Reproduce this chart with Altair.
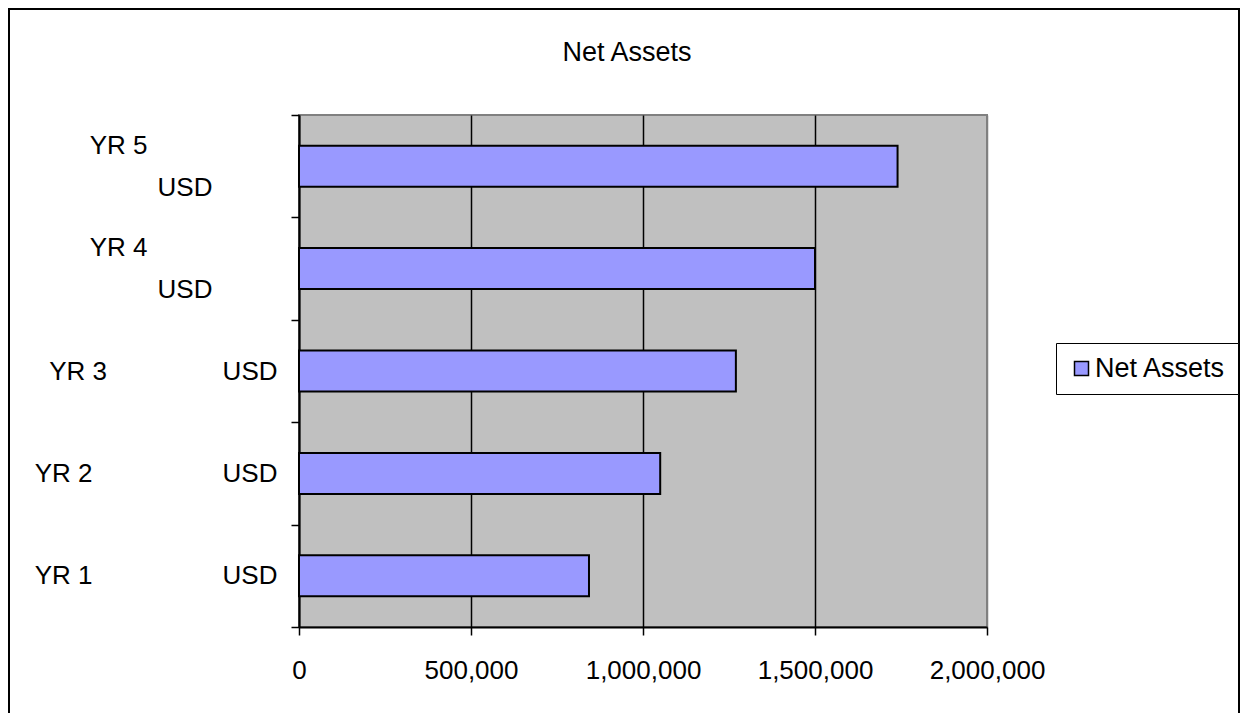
import altair as alt
import pandas as pd

categories = ["YR 1", "YR 2", "YR 3", "YR 4", "YR 5"]
values = [843000, 1050000, 1270000, 1500000, 1740000]
currency = "USD"
series_name = "Net Assets"
title_text = "Net Assets"
x_ticks = [0, 500000, 1000000, 1500000, 2000000]

FONT = "Liberation Sans"
FS = 26
NB = "\u00a0"
ZW = "\u200b"

df = pd.DataFrame({"cat": categories, "value": values, "series": [series_name] * len(categories)})

# label layout (Excel-like wrapping): two-line for top two, single line for the rest
pad = {"YR 1": (18, None), "YR 2": (18, None), "YR 3": (16, None), "YR 4": (18, 9), "YR 5": (18, 9)}
parts = []
two_line = []
for c in categories:
    a, b = pad[c]
    if b is None:
        parts.append(f"'{c}': ['{c}{NB * a}{currency}']")
    else:
        two_line.append(c)
        parts.append(f"'{c}': ['{c}{NB * a}{ZW}', '{currency}{NB * b}{ZW}']")
label_expr = "{" + ", ".join(parts) + "}[datum.value]"
two_line_test = " || ".join(f"datum.value == '{c}'" for c in two_line)

order = categories[::-1]

bars = alt.Chart(df).mark_bar(size=41, stroke="black", strokeWidth=2).encode(
    x=alt.X(
        "value:Q",
        scale=alt.Scale(domain=[0, 2000000], nice=False),
        axis=alt.Axis(
            title=None,
            values=x_ticks,
            format=",d",
            labelFont=FONT,
            labelFontSize=FS,
            labelColor="black",
            labelFlush=False,
            labelPadding=22,
            labelBaseline="top",
            tickSize=8,
            tickColor="black",
            tickWidth=1.5,
            domainColor="black",
            domainWidth=2,
            grid=True,
            gridColor=alt.condition("datum.value >= 2000000", alt.value("#808080"), alt.value("black")),
            gridWidth=1.5,
        ),
    ),
    y=alt.Y(
        "cat:N",
        sort=order,
        scale=alt.Scale(paddingInner=0, paddingOuter=0),
        axis=alt.Axis(
            title=None,
            labelExpr=label_expr,
            labelFont=FONT,
            labelFontSize=FS,
            labelColor="black",
            labelAlign="right",
            labelBaseline="middle",
            labelLineHeight=42,
            labelLimit=0,
            labelPadding=14,
            labelOffset=alt.condition(two_line_test, alt.value(-21), alt.value(0)),
            tickBand="extent",
            tickSize=8,
            tickColor="black",
            tickWidth=1.5,
            domainColor="black",
            domainWidth=2,
            grid=False,
        ),
    ),
    color=alt.Color(
        "series:N",
        scale=alt.Scale(range=["#9999FF"]),
        legend=alt.Legend(
            title=None,
            orient="none",
            legendX=757,
            legendY=228,
            labelFont=FONT,
            labelFontSize=27,
            labelColor="black",
            symbolType="square",
            symbolSize=196,
            symbolStrokeColor="black",
            symbolStrokeWidth=1.5,
            symbolOpacity=1,
            labelOffset=0,
            padding=12,
            strokeColor="black",
            fillColor="white",
            cornerRadius=0,
        ),
    ),
)

border = alt.Chart(pd.DataFrame({"k": [0]})).mark_rect(
    filled=False, stroke="black", strokeWidth=2
).encode(
    x=alt.value(-290), x2=alt.value(940), y=alt.value(-106), y2=alt.value(720)
)

chart = alt.layer(bars, border).properties(
    width=688,
    height=512,
    padding={"left": 291, "top": 107, "right": 253, "bottom": 86},
    autosize="none",
    title=alt.TitleParams(
        title_text,
        font=FONT,
        fontSize=27,
        fontWeight="normal",
        color="black",
        anchor="middle",
        frame="bounds",
        baseline="alphabetic",
        offset=-80,
        dx=3,
    ),
).configure_view(fill="#C0C0C0", stroke="#808080", strokeWidth=2)

chart.save("out.html", embed_options={"renderer": "svg", "actions": False})
